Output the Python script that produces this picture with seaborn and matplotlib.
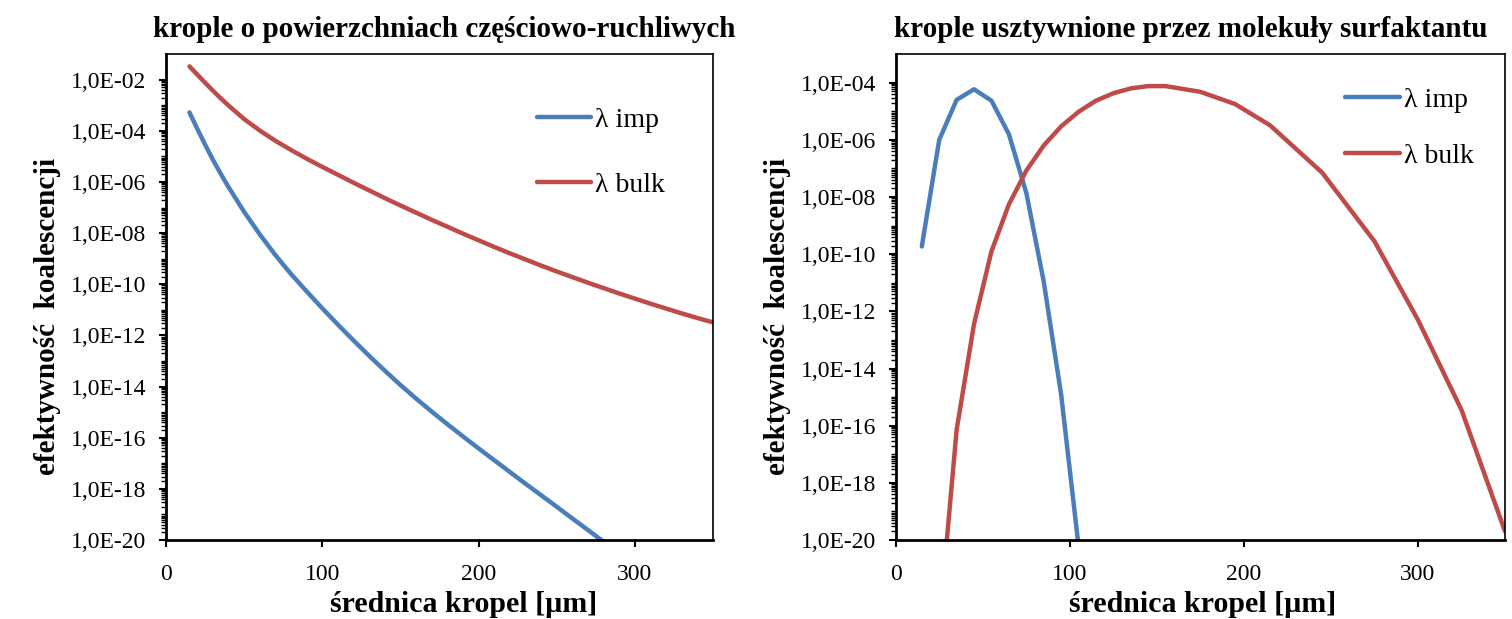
import numpy as np
import matplotlib
matplotlib.use("Agg")
import matplotlib.pyplot as plt
import seaborn as sns
from matplotlib.ticker import FixedLocator, FuncFormatter, NullFormatter

# Dane (wartości log10 efektywności koalescencji)
# Lewy wykres: krople o powierzchniach częściowo-ruchliwych
lewy_x = [15, 20, 25, 30, 35, 40, 50, 60, 70, 80, 90, 100, 110, 120, 130, 140, 150,
          160, 170, 180, 190, 200, 210, 220, 230, 240, 250, 260, 270, 280]
lewy_imp_log = [-3.28, -3.92, -4.54, -5.13, -5.68, -6.2, -7.17, -8.05, -8.86, -9.6,
                -10.28, -10.94, -11.58, -12.2, -12.8, -13.38, -13.94, -14.47, -14.98,
                -15.47, -15.95, -16.42, -16.88, -17.34, -17.8, -18.25, -18.7, -19.16,
                -19.61, -20.07]

lewy_x_bulk = [15, 20, 25, 30, 35, 40, 50, 60, 70, 80, 90, 100, 110, 120, 130, 140, 150,
               160, 170, 180, 190, 200, 210, 220, 230, 240, 250, 260, 270, 280, 290, 300,
               310, 320, 330, 340, 350]
lewy_bulk_log = [-1.48, -1.8, -2.12, -2.43, -2.73, -3.01, -3.54, -3.99, -4.39, -4.75,
                 -5.09, -5.41, -5.72, -6.03, -6.33, -6.63, -6.92, -7.2, -7.48, -7.75,
                 -8.02, -8.28, -8.54, -8.79, -9.03, -9.27, -9.5, -9.72, -9.94, -10.15,
                 -10.36, -10.56, -10.76, -10.95, -11.14, -11.32, -11.49]

# Prawy wykres: krople usztywnione przez molekuły surfaktantu
prawy_x_imp = [15, 25, 35, 45, 55, 65, 75, 85, 95, 105]
prawy_imp_log = [-9.73, -6.0, -4.6, -4.23, -4.63, -5.8, -7.85, -10.95, -14.9, -20.2]

prawy_x_bulk = [25, 35, 45, 55, 65, 75, 85, 95, 105, 115, 125, 135, 145, 155, 175, 195,
                215, 245, 275, 300, 325, 350]
prawy_bulk_log = [-23.0, -16.14, -12.44, -9.9, -8.26, -7.08, -6.2, -5.53, -5.02, -4.63,
                  -4.37, -4.2, -4.12, -4.12, -4.32, -4.75, -5.49, -7.15, -9.55, -12.3,
                  -15.45, -19.7]

tytuly = ["krople o powierzchniach częściowo-ruchliwych",
          "krople usztywnione przez molekuły surfaktantu"]
etykieta_x = "średnica kropel [µm]"
etykieta_y = "efektywność  koalescencji"
etykiety_serii = ["λ imp", "λ bulk"]
gorne_wykladniki = [-1, -3]
gorne_glowne = [-2, -4]

KOLOR_IMP = "#4A7EBB"
KOLOR_BULK = "#BE4B48"

sns.set_theme(style="white")
plt.rcParams["font.family"] = ["Liberation Serif", "DejaVu Serif"]
plt.rcParams["text.color"] = "black"
plt.rcParams["axes.labelcolor"] = "black"

fig = plt.figure(figsize=(15.12, 6.19), dpi=100)
ax1 = fig.add_axes([0.1098, 0.1276, 0.3618, 0.785])
ax2 = fig.add_axes([0.5924, 0.1276, 0.4030, 0.785])

serie = [
    (ax1, lewy_x, lewy_imp_log, lewy_x_bulk, lewy_bulk_log),
    (ax2, prawy_x_imp, prawy_imp_log, prawy_x_bulk, prawy_bulk_log),
]

# drobne przesunięcia tytułów i etykiet osi x, jak w oryginale
poz_tytulu = [0.509, 0.484]
poz_xlabel = [0.544, 0.503]


def formatuj(v, pos):
    wykl = int(round(np.log10(v)))
    return f"1,0E-{abs(wykl):02d}"


for i, (ax, xi, yi, xb, yb) in enumerate(serie):
    sns.lineplot(x=xi, y=10.0 ** np.array(yi), ax=ax, color=KOLOR_IMP, lw=3.2,
                 label=etykiety_serii[0], solid_capstyle="round")
    sns.lineplot(x=xb, y=10.0 ** np.array(yb), ax=ax, color=KOLOR_BULK, lw=3.2,
                 label=etykiety_serii[1], solid_capstyle="round")
    ax.set_yscale("log")
    ax.set_xlim(0, 350)
    ax.set_ylim(1e-20, 10.0 ** gorne_wykladniki[i])
    ax.xaxis.set_major_locator(FixedLocator([0, 100, 200, 300]))
    top_major = gorne_glowne[i]
    ax.yaxis.set_major_locator(FixedLocator(10.0 ** np.arange(-20, top_major + 1, 2)))
    # podziałka pomocnicza tylko do najwyższej głównej wartości (jak w Excelu)
    minor = [m * 10.0 ** e for e in range(-20, top_major) for m in range(1, 10)]
    ax.yaxis.set_minor_locator(FixedLocator(minor))
    ax.yaxis.set_major_formatter(FuncFormatter(formatuj))
    ax.yaxis.set_minor_formatter(NullFormatter())

    ax.tick_params(axis="both", which="major", direction="out", length=5, width=1.5,
                   labelsize=17, colors="black", left=True, bottom=True)
    ax.tick_params(axis="y", which="major", pad=9)
    ax.tick_params(axis="x", which="major", pad=12)
    ax.tick_params(axis="y", which="minor", direction="out", length=3.5, width=1.0,
                   left=True, colors="black")

    for nazwa, sp in ax.spines.items():
        sp.set_visible(True)
        sp.set_color("black")
        sp.set_linewidth(2.0 if nazwa in ("left", "bottom") else 1.2)

    ax.set_title(tytuly[i], fontsize=21, fontweight="bold", pad=12, color="black",
                 x=poz_tytulu[i])
    ax.set_xlabel(etykieta_x, fontsize=21.5, fontweight="bold", labelpad=7)
    ax.xaxis.set_label_coords(poz_xlabel[i], -0.105)
    ax.set_ylabel(etykieta_y, fontsize=21, fontweight="bold", labelpad=7)
    ax.yaxis.label.set_y(0.461)
    ax.grid(False)

ax1.legend(loc="upper left", bbox_to_anchor=(0.678, 0.891), frameon=False, fontsize=20,
           handlelength=1.95, handletextpad=0.15, labelspacing=1.44, borderpad=0,
           borderaxespad=0)
ax2.legend(loc="upper left", bbox_to_anchor=(0.738, 0.932), frameon=False, fontsize=20,
           handlelength=1.95, handletextpad=0.15, labelspacing=1.12, borderpad=0,
           borderaxespad=0)

fig.savefig("out.png", dpi=100)
plt.close(fig)
